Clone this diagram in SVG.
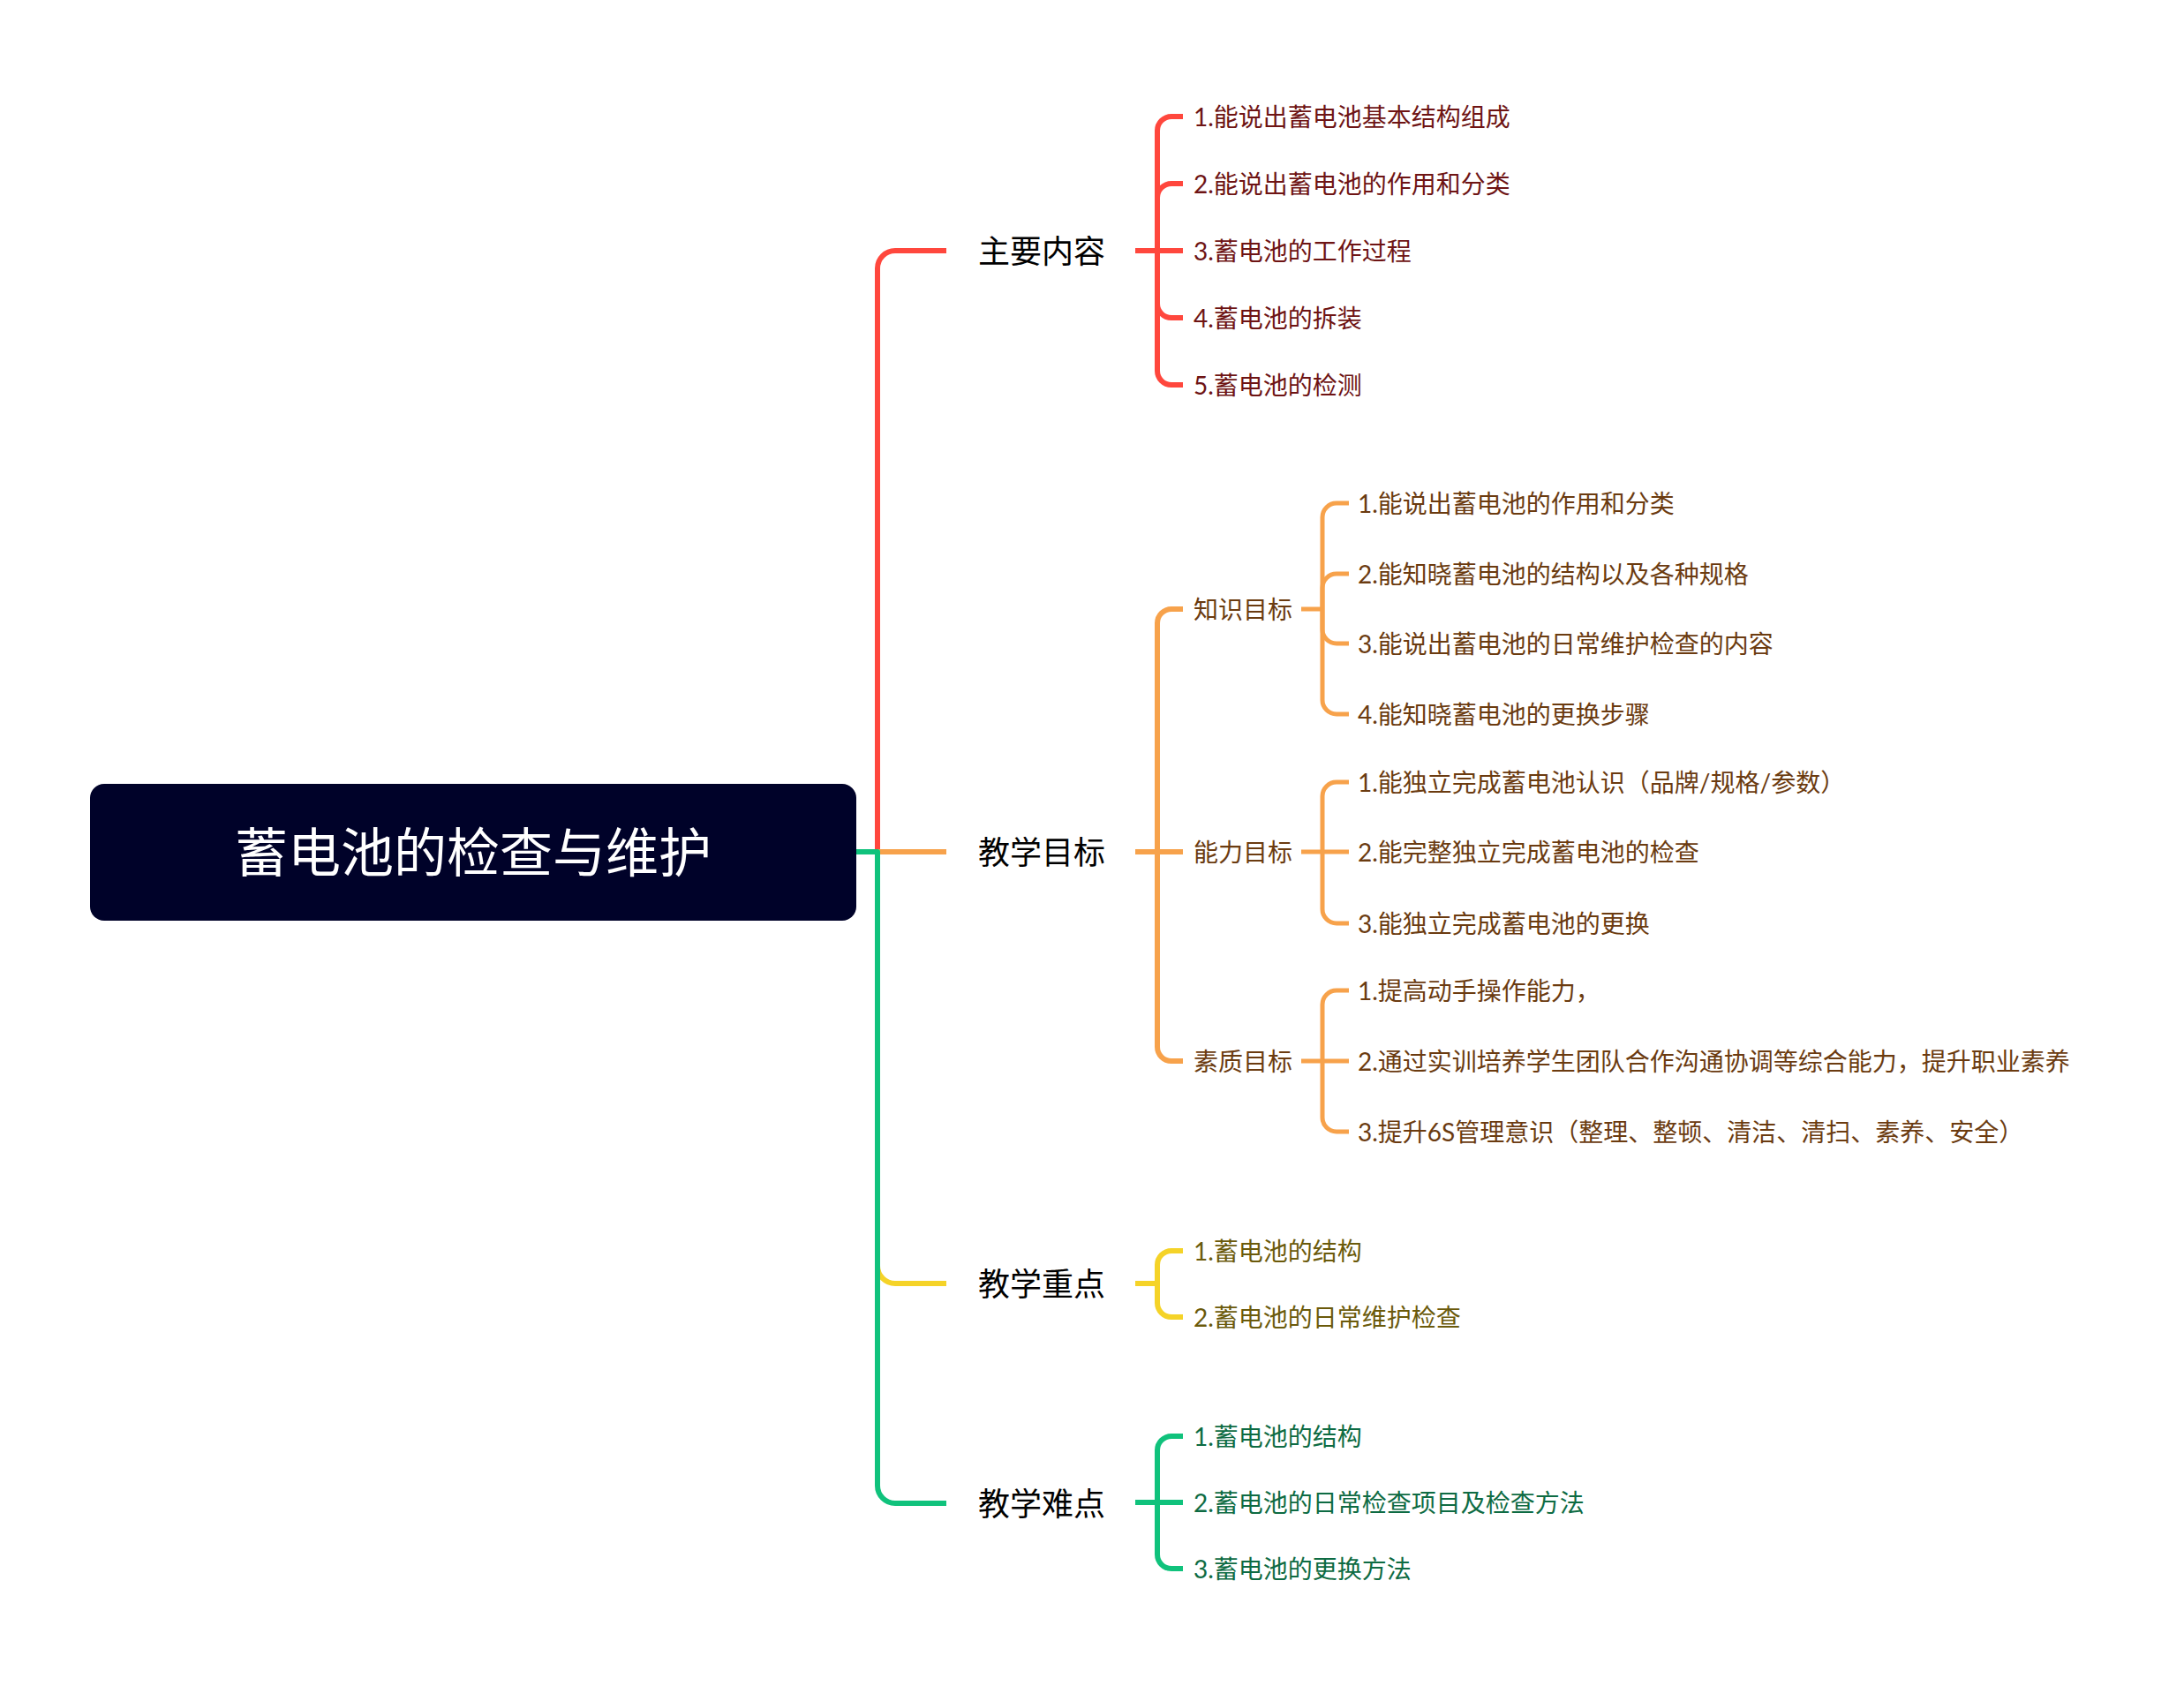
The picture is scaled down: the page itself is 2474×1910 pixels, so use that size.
<svg xmlns="http://www.w3.org/2000/svg" width="2474" height="1910" viewBox="0 0 2474 1910">
<style>
text{font-family:Lato,"Noto Sans CJK SC",sans-serif;dominant-baseline:central}
.t1{font-size:60px;fill:#ffffff;text-anchor:middle}
.t2{font-size:36px;fill:#000000}
.t3{font-size:28px}
.red{fill:#6E1414}.org{fill:#6B3B10}.yel{fill:#6B5A0B}.grn{fill:#0E6B43}
.c{fill:none;stroke-linecap:butt;stroke-linejoin:round}
.l1{stroke-width:6}.l2{stroke-width:6}.l3{stroke-width:5}
.sr{stroke:#FF473D}.so{stroke:#F7A24B}.sy{stroke:#F5D328}.sg{stroke:#10C27C}
</style>
<rect width="2474" height="1910" fill="#ffffff"/>
<g id="connectors">
<path class="c l1 sr" d="M970,965 H994 V304 A20,20 0 0 1 1014,284 H1072"/>
<path class="c l1 so" d="M970,965 H1072"/>
<path class="c l1 sy" d="M970,965 H994 V1434 A20,20 0 0 0 1014,1454 H1072"/>
<path class="c l1 sg" d="M970,965 H994 V1683 A20,20 0 0 0 1014,1703 H1072"/>
<g class="c l2 sr">
<path d="M1286,284 H1340"/>
<path d="M1311,284 V148 A16,16 0 0 1 1327,132 H1340"/>
<path d="M1311,284 V224 A16,16 0 0 1 1327,208 H1340"/>
<path d="M1311,284 V344 A16,16 0 0 0 1327,360 H1340"/>
<path d="M1311,284 V420 A16,16 0 0 0 1327,436 H1340"/>
</g>
<g class="c l2 so">
<path d="M1286,965 H1340"/>
<path d="M1311,965 V706 A16,16 0 0 1 1327,690 H1340"/>
<path d="M1311,965 V1186 A16,16 0 0 0 1327,1202 H1340"/>
</g>
<g class="c l3 so">
<path d="M1474,690 H1498"/>
<path d="M1498,690 V586 A16,16 0 0 1 1514,570 H1528"/>
<path d="M1498,690 V666 A16,16 0 0 1 1514,650 H1528"/>
<path d="M1498,690 V713 A16,16 0 0 0 1514,729 H1528"/>
<path d="M1498,690 V793 A16,16 0 0 0 1514,809 H1528"/>
<path d="M1474,965 H1528"/>
<path d="M1498,965 V902 A16,16 0 0 1 1514,886 H1528"/>
<path d="M1498,965 V1030 A16,16 0 0 0 1514,1046 H1528"/>
<path d="M1474,1202 H1528"/>
<path d="M1498,1202 V1138 A16,16 0 0 1 1514,1122 H1528"/>
<path d="M1498,1202 V1266 A16,16 0 0 0 1514,1282 H1528"/>
</g>
<g class="c l2 sy">
<path d="M1286,1454 H1311"/>
<path d="M1311,1454 V1433 A16,16 0 0 1 1327,1417 H1340"/>
<path d="M1311,1454 V1476 A16,16 0 0 0 1327,1492 H1340"/>
</g>
<g class="c l2 sg">
<path d="M1286,1702 H1340"/>
<path d="M1311,1702 V1643 A16,16 0 0 1 1327,1627 H1340"/>
<path d="M1311,1702 V1761 A16,16 0 0 0 1327,1777 H1340"/>
</g>
</g>
<g id="root">
<rect x="102" y="888" width="868" height="155" rx="16" fill="#000229"/>
<text class="t1" x="536" y="965">蓄电池的检查与维护</text>
</g>
<g id="main-content">
<text class="t2" x="1108" y="284">主要内容</text>
<text class="t3 red" x="1352" y="132">1.能说出蓄电池基本结构组成</text>
<text class="t3 red" x="1352" y="208">2.能说出蓄电池的作用和分类</text>
<text class="t3 red" x="1352" y="284">3.蓄电池的工作过程</text>
<text class="t3 red" x="1352" y="360">4.蓄电池的拆装</text>
<text class="t3 red" x="1352" y="436">5.蓄电池的检测</text>
</g>
<g id="teaching-goals">
<text class="t2" x="1108" y="965">教学目标</text>
</g>
<g id="knowledge-goals">
<text class="t3 org" x="1352" y="690">知识目标</text>
<text class="t3 org" x="1538" y="570">1.能说出蓄电池的作用和分类</text>
<text class="t3 org" x="1538" y="650">2.能知晓蓄电池的结构以及各种规格</text>
<text class="t3 org" x="1538" y="729">3.能说出蓄电池的日常维护检查的内容</text>
<text class="t3 org" x="1538" y="809">4.能知晓蓄电池的更换步骤</text>
</g>
<g id="ability-goals">
<text class="t3 org" x="1352" y="965">能力目标</text>
<text class="t3 org" x="1538" y="886">1.能独立完成蓄电池认识（品牌/规格/参数）</text>
<text class="t3 org" x="1538" y="965">2.能完整独立完成蓄电池的检查</text>
<text class="t3 org" x="1538" y="1046">3.能独立完成蓄电池的更换</text>
</g>
<g id="quality-goals">
<text class="t3 org" x="1352" y="1202">素质目标</text>
<text class="t3 org" x="1538" y="1122">1.提高动手操作能力，</text>
<text class="t3 org" x="1538" y="1202">2.通过实训培养学生团队合作沟通协调等综合能力，提升职业素养</text>
<text class="t3 org" x="1538" y="1282">3.提升6S管理意识（整理、整顿、清洁、清扫、素养、安全）</text>
</g>
<g id="key-points">
<text class="t2" x="1108" y="1454">教学重点</text>
<text class="t3 yel" x="1352" y="1417">1.蓄电池的结构</text>
<text class="t3 yel" x="1352" y="1492">2.蓄电池的日常维护检查</text>
</g>
<g id="difficult-points">
<text class="t2" x="1108" y="1703">教学难点</text>
<text class="t3 grn" x="1352" y="1627">1.蓄电池的结构</text>
<text class="t3 grn" x="1352" y="1702">2.蓄电池的日常检查项目及检查方法</text>
<text class="t3 grn" x="1352" y="1777">3.蓄电池的更换方法</text>
</g>
</svg>
